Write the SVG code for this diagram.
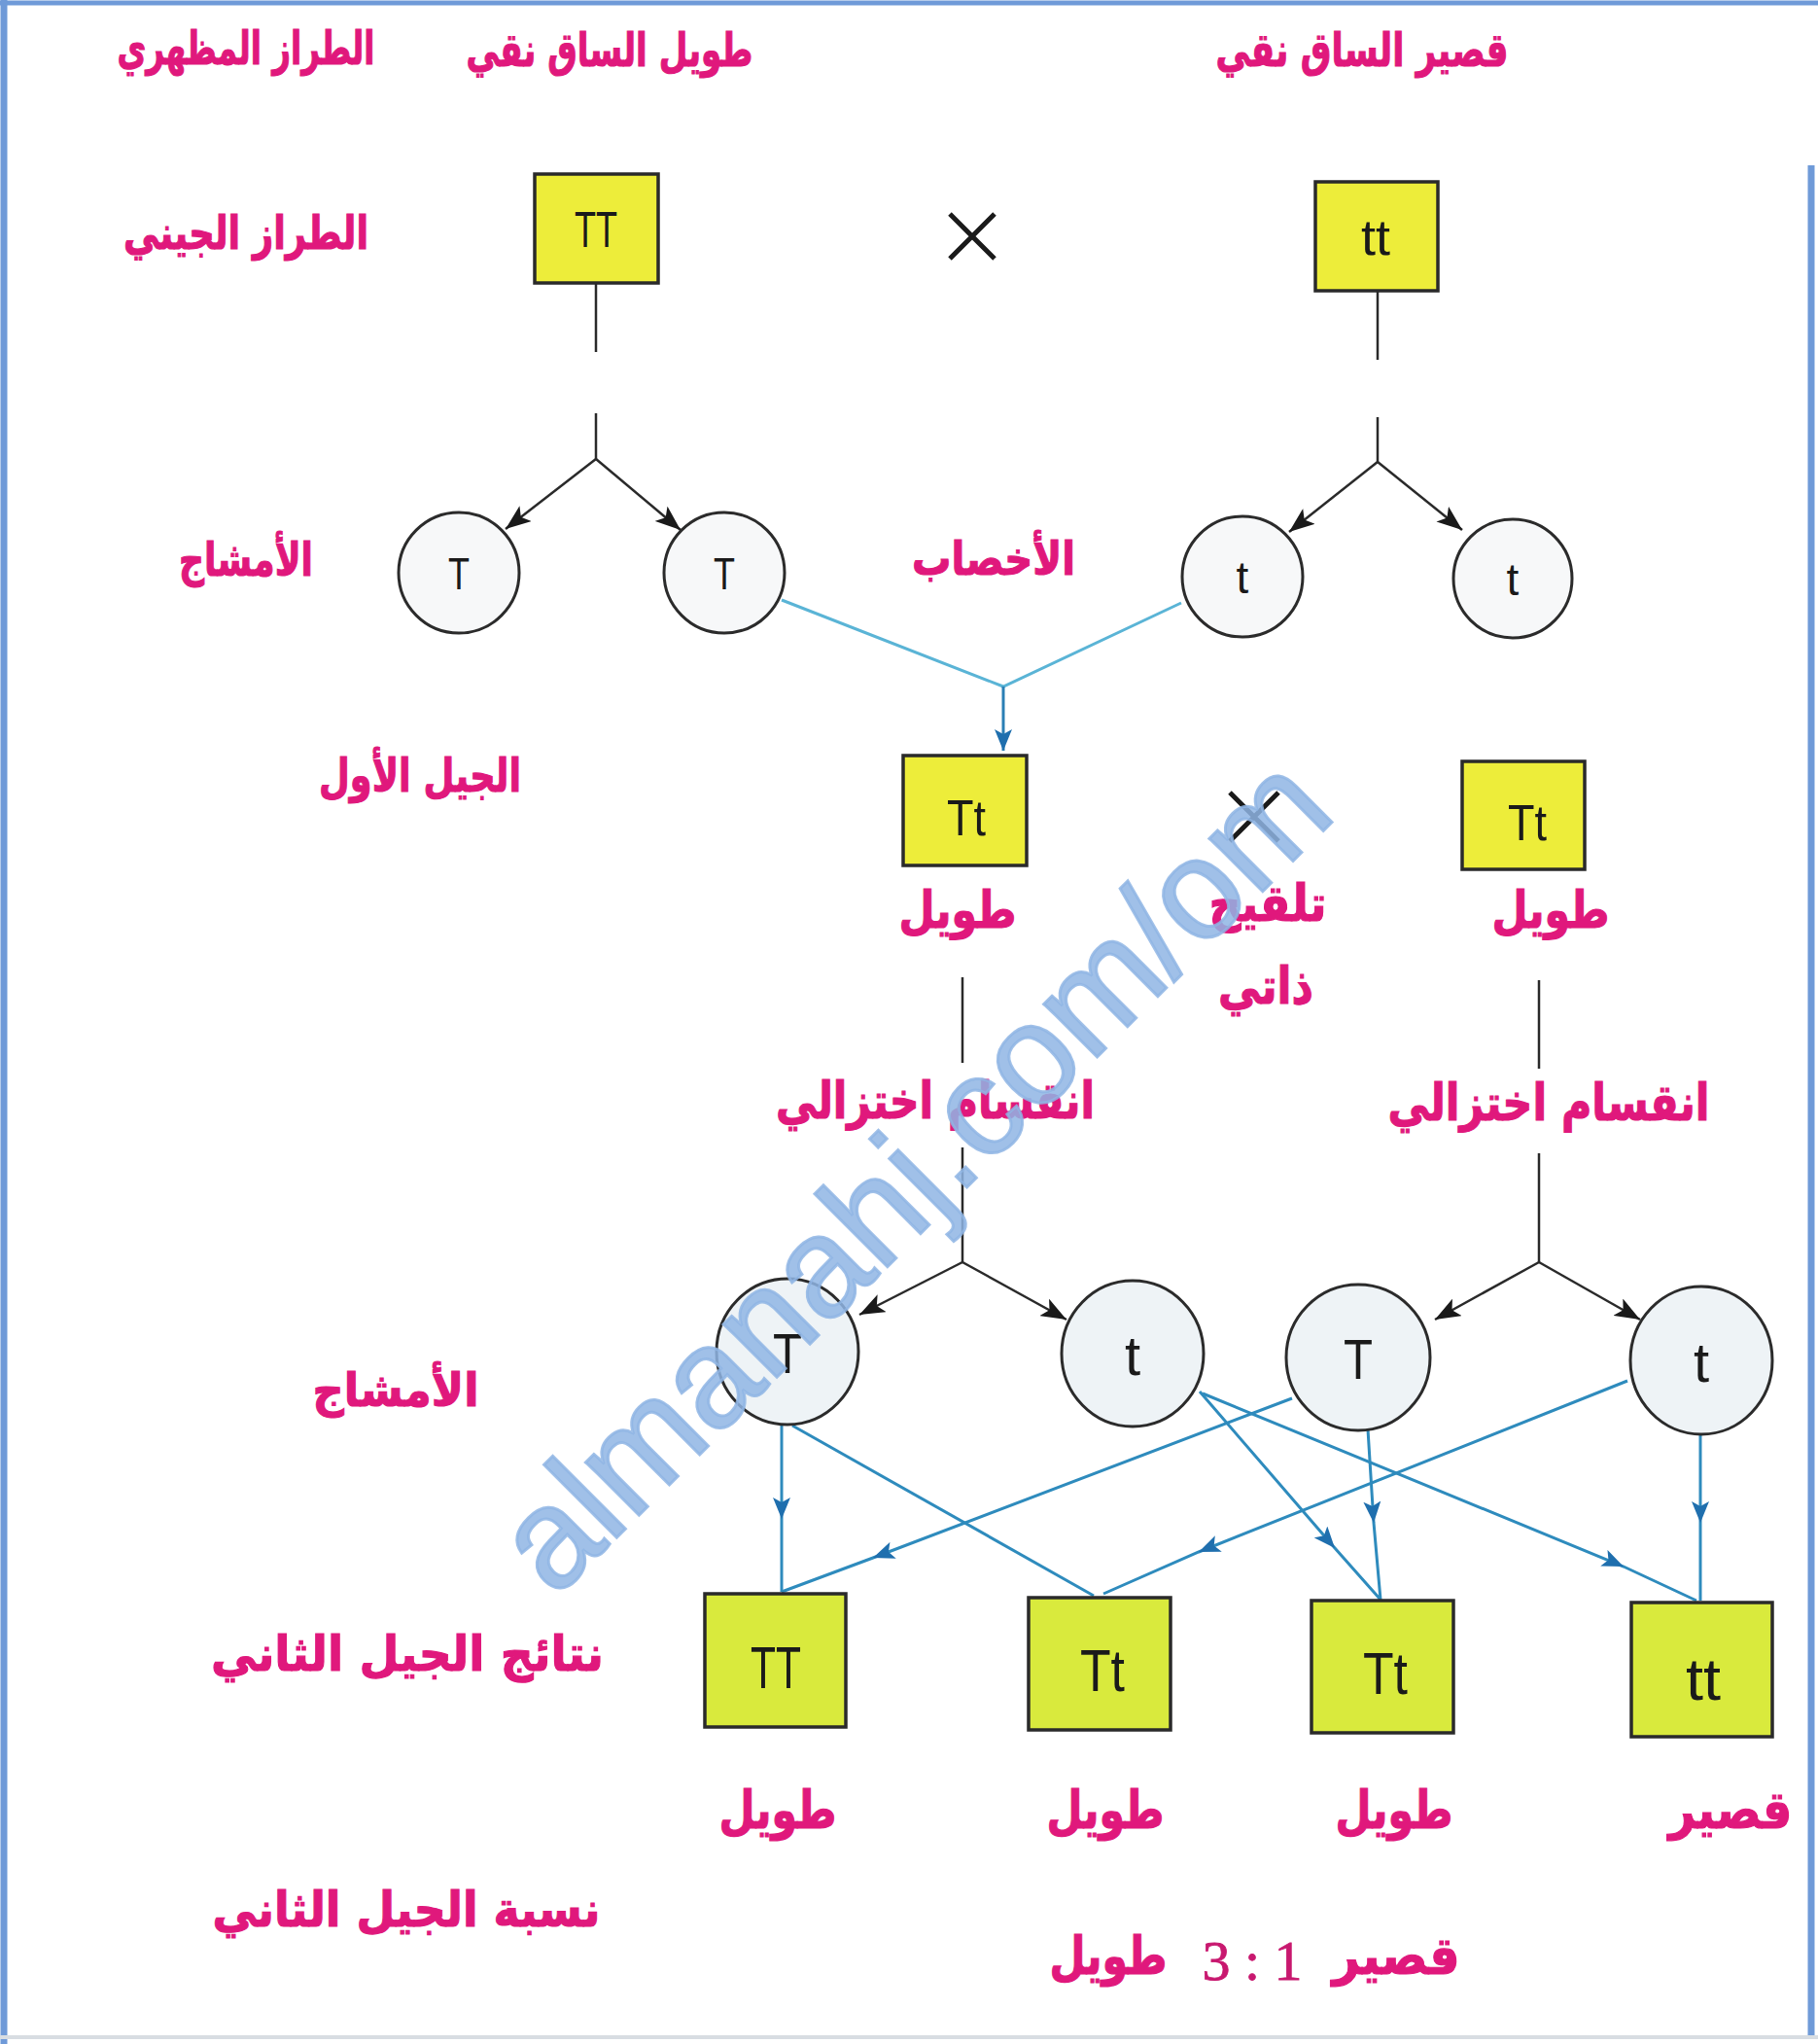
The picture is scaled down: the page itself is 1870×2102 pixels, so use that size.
<svg xmlns="http://www.w3.org/2000/svg" width="1870" height="2102" viewBox="0 0 1870 2102">
<defs>
<style>
.lbl{font-family:"DejaVu Sans","Noto Sans",sans-serif;font-weight:bold;fill:#e0187c;stroke:#e0187c;stroke-width:1.2;text-anchor:middle}
.sq{stroke:#2a2a2a;stroke-width:3.5}
.sq1{fill:#eded3a}
.sq2{fill:#d9ea3d}
.circ{fill:#eef3f6;stroke:#2b2b2b;stroke-width:3}
.circw{fill:#f7f8f9;stroke:#2b2b2b;stroke-width:3}
.gene{font-family:"Liberation Sans",Arial,sans-serif;fill:#1a1a1a;text-anchor:middle}
.blk{stroke:#2a2a2a;stroke-width:2.5;fill:none}
.blu{stroke:#2e8bbd;stroke-width:3;fill:none}
.cyan{stroke:#5ab4d6;stroke-width:3;fill:none}
.cross{stroke:#1a1a1a;stroke-width:5;fill:none}
</style>
<marker id="ab" markerUnits="userSpaceOnUse" markerWidth="28" markerHeight="20" refX="26" refY="10" orient="auto"><path d="M0,0 L26,10 L0,20 L6,10 Z" fill="#1a1a1a"/></marker>
<marker id="au" markerUnits="userSpaceOnUse" markerWidth="24" markerHeight="18" refX="22" refY="9" orient="auto"><path d="M0,0 L22,9 L0,18 L5,9 Z" fill="#1f6fae"/></marker>
</defs>
<rect width="1870" height="2102" fill="#ffffff"/>
<g id="frame">
<line x1="0" y1="3" x2="1870" y2="3" stroke="#6f9ad8" stroke-width="5"/>
<line x1="4" y1="0" x2="4" y2="2102" stroke="#6f9ad8" stroke-width="7"/>
<line x1="1863" y1="170" x2="1863" y2="2095" stroke="#6f9ad8" stroke-width="7"/>
<line x1="0" y1="2095" x2="1870" y2="2095" stroke="#d8dde2" stroke-width="4"/>
</g>
<g id="labels">
<text class="lbl" x="253" y="66" font-size="48" textLength="265" lengthAdjust="spacingAndGlyphs">الطراز المظهري</text>
<text class="lbl" x="627" y="68" font-size="48" textLength="295" lengthAdjust="spacingAndGlyphs">طويل الساق نقي</text>
<text class="lbl" x="1401" y="68" font-size="48" textLength="301" lengthAdjust="spacingAndGlyphs">قصير الساق نقي</text>
<text class="lbl" x="253" y="256" font-size="48" textLength="252" lengthAdjust="spacingAndGlyphs">الطراز الجيني</text>
<text class="lbl" x="253" y="592" font-size="48" textLength="138" lengthAdjust="spacingAndGlyphs">الأمشاج</text>
<text class="lbl" x="1022" y="591" font-size="48" textLength="168" lengthAdjust="spacingAndGlyphs">الأخصاب</text>
<text class="lbl" x="432" y="814" font-size="48" textLength="208" lengthAdjust="spacingAndGlyphs">الجيل الأول</text>
<text class="lbl" x="985" y="954" font-size="52" textLength="121" lengthAdjust="spacingAndGlyphs">طويل</text>
<text class="lbl" x="1304" y="947" font-size="52" textLength="121" lengthAdjust="spacingAndGlyphs">تلقيح</text>
<text class="lbl" x="1302" y="1032" font-size="52" textLength="98" lengthAdjust="spacingAndGlyphs">ذاتي</text>
<text class="lbl" x="1595" y="954" font-size="52" textLength="121" lengthAdjust="spacingAndGlyphs">طويل</text>
<text class="lbl" x="962" y="1150" font-size="52" textLength="328" lengthAdjust="spacingAndGlyphs">انقسام اختزالي</text>
<text class="lbl" x="1593" y="1152" font-size="52" textLength="331" lengthAdjust="spacingAndGlyphs">انقسام اختزالي</text>
<text class="lbl" x="407" y="1446" font-size="48" textLength="171" lengthAdjust="spacingAndGlyphs">الأمشاج</text>
<text class="lbl" x="419" y="1718" font-size="50" textLength="404" lengthAdjust="spacingAndGlyphs">نتائج الجيل الثاني</text>
<text class="lbl" x="800" y="1880" font-size="54" textLength="121" lengthAdjust="spacingAndGlyphs">طويل</text>
<text class="lbl" x="1137" y="1880" font-size="54" textLength="121" lengthAdjust="spacingAndGlyphs">طويل</text>
<text class="lbl" x="1434" y="1880" font-size="54" textLength="121" lengthAdjust="spacingAndGlyphs">طويل</text>
<text class="lbl" x="1780" y="1880" font-size="54" textLength="127" lengthAdjust="spacingAndGlyphs">قصير</text>
<text class="lbl" x="418" y="1981" font-size="50" textLength="399" lengthAdjust="spacingAndGlyphs">نسبة الجيل الثاني</text>
<text class="lbl" x="1140" y="2030" font-size="54" textLength="121" lengthAdjust="spacingAndGlyphs">طويل</text>
<text x="1288" y="2036" font-family="Liberation Serif,'Times New Roman',serif" font-size="58" fill="#c8186f" stroke="#c8186f" stroke-width="0.8" text-anchor="middle">3 : 1</text>
<text class="lbl" x="1436" y="2030" font-size="54" textLength="131" lengthAdjust="spacingAndGlyphs">قصير</text>
</g>
<g id="crosses">
<path class="cross" d="M977,220 L1023,266 M1023,220 L977,266"/>
<path class="cross" d="M1265,815 L1315,865 M1315,815 L1265,865"/>
</g>
<g id="connectors">
<line class="blk" x1="613" y1="292" x2="613" y2="362"/>
<line class="blk" x1="613" y1="425" x2="613" y2="472"/>
<path class="blk" d="M613,472 L520,544" marker-end="url(#ab)"/>
<path class="blk" d="M613,472 L700,545" marker-end="url(#ab)"/>
<line class="blk" x1="1417" y1="300" x2="1417" y2="370"/>
<line class="blk" x1="1417" y1="429" x2="1417" y2="475"/>
<path class="blk" d="M1417,475 L1326,547" marker-end="url(#ab)"/>
<path class="blk" d="M1417,475 L1504,545" marker-end="url(#ab)"/>
<path class="cyan" d="M804,617 L1032,706 L1215,620"/>
<path d="M1032,706 L1032,772" stroke="#2a7fb5" stroke-width="3" fill="none" marker-end="url(#au)"/>
<line class="blk" x1="990" y1="1005" x2="990" y2="1093"/>
<line class="blk" x1="990" y1="1180" x2="990" y2="1298"/>
<path class="blk" d="M990,1298 L884,1352" marker-end="url(#ab)"/>
<path class="blk" d="M990,1298 L1097,1357" marker-end="url(#ab)"/>
<line class="blk" x1="1583" y1="1008" x2="1583" y2="1099"/>
<line class="blk" x1="1583" y1="1186" x2="1583" y2="1298"/>
<path class="blk" d="M1583,1298 L1476,1357" marker-end="url(#ab)"/>
<path class="blk" d="M1583,1298 L1687,1357" marker-end="url(#ab)"/>
<path class="blu" d="M804,1464 L804,1562 L804,1637" marker-mid="url(#au)"/>
<path class="blu" d="M815,1466 L1125,1641"/>
<path class="blu" d="M1329,1438 L898,1602 L804,1637" marker-mid="url(#au)"/>
<path class="blu" d="M1674,1420 L1233,1596 L1135,1639" marker-mid="url(#au)"/>
<path class="blu" d="M1234,1431 L1373,1592 L1420,1645" marker-mid="url(#au)"/>
<path class="blu" d="M1407,1470 L1413,1566 L1420,1645" marker-mid="url(#au)"/>
<path class="blu" d="M1237,1433 L1670,1611 L1745,1646" marker-mid="url(#au)"/>
<path class="blu" d="M1749,1476 L1749,1566 L1749,1646" marker-mid="url(#au)"/>
</g>
<g id="p-TT">
<rect class="sq sq1" x="550" y="179" width="127" height="112"/>
<text class="gene" x="613" y="254" font-size="52" textLength="44" lengthAdjust="spacingAndGlyphs">TT</text>
</g>
<g id="p-tt">
<rect class="sq sq1" x="1353" y="187" width="126" height="112"/>
<text class="gene" x="1415" y="262" font-size="52" textLength="30" lengthAdjust="spacingAndGlyphs">tt</text>
</g>
<g id="g1-T1"><circle class="circw" cx="472" cy="589" r="62"/><text class="gene" x="472" y="606" font-size="46" textLength="22" lengthAdjust="spacingAndGlyphs">T</text></g>
<g id="g1-T2"><circle class="circw" cx="745" cy="589" r="62"/><text class="gene" x="745" y="606" font-size="46" textLength="22" lengthAdjust="spacingAndGlyphs">T</text></g>
<g id="g1-t1"><circle class="circw" cx="1278" cy="593" r="62"/><text class="gene" x="1278" y="610" font-size="46">t</text></g>
<g id="g1-t2"><circle class="circw" cx="1556" cy="595" r="61"/><text class="gene" x="1556" y="612" font-size="46">t</text></g>
<g id="f1-left">
<rect class="sq sq1" x="929" y="777" width="127" height="113"/>
<text class="gene" x="994" y="859" font-size="52" textLength="40" lengthAdjust="spacingAndGlyphs">Tt</text>
</g>
<g id="f1-right">
<rect class="sq sq1" x="1504" y="783" width="126" height="111"/>
<text class="gene" x="1571" y="864" font-size="52" textLength="40" lengthAdjust="spacingAndGlyphs">Tt</text>
</g>
<g id="g2-T1"><ellipse class="circ" cx="810" cy="1390" rx="73" ry="75"/><text class="gene" x="810" y="1412" font-size="58" textLength="30" lengthAdjust="spacingAndGlyphs">T</text></g>
<g id="g2-t1"><ellipse class="circ" cx="1165" cy="1392" rx="73" ry="75"/><text class="gene" x="1165" y="1414" font-size="58">t</text></g>
<g id="g2-T2"><ellipse class="circ" cx="1397" cy="1396" rx="74" ry="75"/><text class="gene" x="1397" y="1418" font-size="58" textLength="30" lengthAdjust="spacingAndGlyphs">T</text></g>
<g id="g2-t2"><ellipse class="circ" cx="1750" cy="1399" rx="73" ry="76"/><text class="gene" x="1750" y="1421" font-size="58">t</text></g>
<g id="f2-TT"><rect class="sq sq2" x="725" y="1639" width="145" height="137"/><text class="gene" x="798" y="1736" font-size="62" textLength="52" lengthAdjust="spacingAndGlyphs">TT</text></g>
<g id="f2-Tt1"><rect class="sq sq2" x="1058" y="1643" width="146" height="136"/><text class="gene" x="1134" y="1739" font-size="62" textLength="46" lengthAdjust="spacingAndGlyphs">Tt</text></g>
<g id="f2-Tt2"><rect class="sq sq2" x="1349" y="1646" width="146" height="136"/><text class="gene" x="1425" y="1742" font-size="62" textLength="46" lengthAdjust="spacingAndGlyphs">Tt</text></g>
<g id="f2-tt"><rect class="sq sq2" x="1678" y="1648" width="145" height="138"/><text class="gene" x="1752" y="1748" font-size="62" textLength="36" lengthAdjust="spacingAndGlyphs">tt</text></g>
<g id="watermark">
<text x="938" y="1206" transform="rotate(-45 938 1206)" font-family="Liberation Sans,Arial,sans-serif" font-size="146" fill="#8fb5e4" fill-opacity="0.85" stroke="#8fb5e4" stroke-opacity="0.85" stroke-width="3" text-anchor="middle" dominant-baseline="central" textLength="1140" lengthAdjust="spacingAndGlyphs">almanahj.com/om</text>
</g>
</svg>
